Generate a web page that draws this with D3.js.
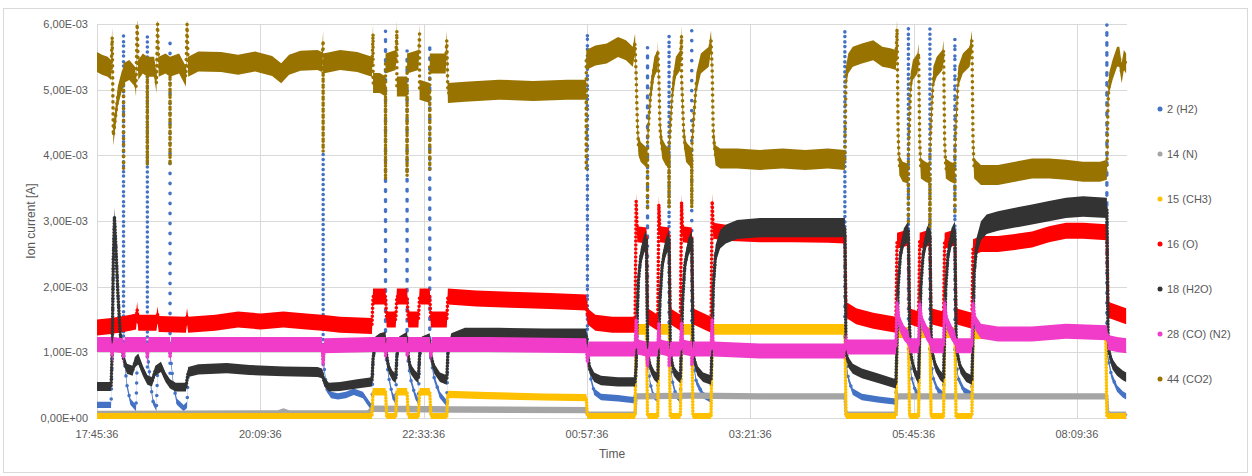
<!DOCTYPE html>
<html><head><meta charset="utf-8">
<script src="https://cdn.jsdelivr.net/npm/d3@7"></script>
<style>
html,body{margin:0;padding:0;background:#fff;}
svg{display:block;font-family:"Liberation Sans",Arial,sans-serif;}
</style></head><body>
<svg id="chart" width="1252" height="476"></svg>
<script>
// ---------------- DATA (values in units of 1E-03 A) ----------------
const seriesNames = ["2 (H2)","14 (N)","15 (CH3)","16 (O)","18 (H2O)","28 (CO) (N2)","44 (CO2)"];
const xTickLabels = ["17:45:36","20:09:36","22:33:36","00:57:36","03:21:36","05:45:36","08:09:36"];
const xStart = "17:45:36", xEnd = "08:53:45";
const yTickValues = [0,1,2,3,4,5,6];
const yTickLabels = ["0,00E+00","1,00E-03","2,00E-03","3,00E-03","4,00E-03","5,00E-03","6,00E-03"];
const yTitle = "Ion current [A]", xTitle = "Time";

const h2 = [
["17:45:36",0.2],["17:58",0.2],["17:59",1.0],["18:00",2.4],["18:01",3.05],["18:02",2.7],["18:04",1.9],["18:06",1.3],["18:09",0.9],["18:09",5.85],["18:09",1.0],["18:12",0.5],["18:15",0.25],["18:20",0.15],["18:21",0.85],["18:22",0.9],["18:26",0.72],["18:30",0.58],["18:30",5.84],["18:30",1.0],["18:33",0.5],["18:35",0.25],["18:38",0.15],["18:39",0.72],["18:42",0.78],["18:46",0.62],["18:50",0.52],["18:50",5.78],["18:50",1.0],["18:53",0.5],["18:56",0.25],["19:02",0.15],["19:05",0.2],["19:06",0.7],["19:15",0.74],["19:40",0.76],["20:00",0.73],["20:30",0.71],["21:00",0.7],["21:05",0.68],["21:05",4.05],["21:05",0.9],["21:08",0.45],["21:12",0.35],["21:18",0.33],["21:25",0.35],["21:32",0.4],["21:40",0.35],["21:46",0.2],["21:48",0.15],
["21:49",0.9],["21:51",1.15],["21:55",1.2],["22:00",1.22],["22:00",5.9],["22:00",1.0],["22:03",0.6],["22:06",0.35],["22:09",0.25],["22:10",0.95],["22:12",1.15],["22:19",1.22],["22:19",5.6],["22:19",1.0],["22:22",0.6],["22:26",0.35],["22:29",0.25],["22:30",0.95],["22:32",1.15],["22:39",1.2],["22:39",5.7],["22:39",1.0],["22:43",0.6],["22:48",0.35],["22:54",0.22],["22:55",1.0],["22:58",1.2],["23:10",1.28],["23:40",1.28],["00:20",1.27],["00:58",1.27],["00:58",5.87],["00:58",1.0],["01:01",0.6],["01:04",0.4],["01:10",0.32],["01:25",0.3],["01:35",0.28],["01:40",0.27],
["01:41",0.8],["01:42",1.6],["01:43",2.1],["01:45",2.45],["01:48",2.65],["01:51",2.72],["01:51",5.65],["01:51",1.0],["01:53",0.55],["01:56",0.35],["02:00",0.28],["02:01",1.2],["02:02",1.8],["02:04",2.35],["02:07",2.6],["02:10",2.72],["02:10",5.84],["02:10",1.0],["02:13",0.55],["02:16",0.35],["02:20",0.28],["02:21",1.2],["02:22",1.8],["02:24",2.35],["02:27",2.6],["02:30",2.72],["02:30",5.9],["02:30",1.0],["02:34",0.55],["02:40",0.35],["02:47",0.28],["02:48",1.2],["02:49",2.0],["02:51",2.5],["02:55",2.72],["03:00",2.8],["03:10",2.87],["03:30",2.9],["04:00",2.9],["04:45",2.9],["04:45",5.92],["04:45",1.0],["04:48",0.6],["04:52",0.4],["05:00",0.32],["05:15",0.28],["05:30",0.25],
["05:31",1.2],["05:32",2.0],["05:34",2.5],["05:37",2.75],["05:41",2.85],["05:41",5.96],["05:41",1.0],["05:44",0.6],["05:47",0.42],["05:50",0.35],["05:51",1.3],["05:52",2.0],["05:54",2.5],["05:57",2.75],["06:00",2.85],["06:00",5.96],["06:00",1.0],["06:03",0.6],["06:07",0.42],["06:12",0.35],["06:13",1.3],["06:14",2.0],["06:16",2.5],["06:19",2.75],["06:22",2.85],["06:22",5.79],["06:22",1.0],["06:25",0.6],["06:30",0.42],["06:37",0.35],["06:38",1.3],["06:39",2.2],["06:41",2.6],["06:45",2.85],["06:50",2.95],["07:00",3.0],["07:15",3.05],["07:30",3.1],["07:45",3.15],["08:00",3.2],["08:15",3.22],["08:36",3.2],["08:36",6.0],["08:36",1.0],["08:40",0.65],["08:45",0.45],["08:50",0.36],["08:53",0.33]
];

const n14 = [
["17:45:36",0.06],["20:25",0.07],["20:30",0.1],["20:35",0.07],["21:44",0.07],["21:48",0.14],["23:00",0.13],["00:57",0.12],["00:58",0.05],["01:40",0.05],["01:41",0.33],["02:30",0.34],["03:30",0.33],["04:45",0.33],["04:46",0.05],["05:30",0.05],["05:31",0.33],["06:40",0.33],["07:30",0.33],["08:36",0.33],["08:37",0.05],["08:53",0.05]
];

const ch3 = [
["17:45:36",0.03],["21:48",0.03],["21:49",0.4],["22:00",0.4],["22:01",0.03],["22:09",0.03],["22:10",0.4],["22:19",0.4],["22:20",0.03],["22:29",0.03],["22:30",0.4],["22:39",0.4],["22:40",0.03],["22:54",0.03],["22:55",0.36],["23:30",0.34],["00:20",0.32],["00:57",0.31],["00:58",0.03],["01:40",0.03],["01:41",1.35],["01:50",1.35],["01:51",0.03],["02:00",0.03],["02:01",1.35],["02:10",1.35],["02:11",0.03],["02:20",0.03],["02:21",1.35],["02:30",1.35],["02:31",0.03],["02:47",0.03],["02:48",1.35],["04:45",1.35],["04:46",0.03],["05:30",0.03],["05:31",1.3],["05:41",1.3],["05:42",0.03],["05:50",0.03],["05:51",1.3],["06:00",1.3],["06:01",0.03],["06:12",0.03],["06:13",1.3],["06:22",1.3],["06:23",0.03],["06:37",0.03],["06:38",1.28],["07:30",1.3],["08:00",1.33],["08:35",1.32],["08:36",0.03],["08:53",0.03]
];

const o16 = [
["17:45:36",1.38],["17:58",1.4],["18:05",1.42],["18:15",1.45],["18:20",1.47],["18:21",1.65],["18:22",1.45],["18:38",1.45],["18:39",1.58],["18:40",1.43],["19:04",1.42],["19:05",1.55],["19:06",1.42],["19:30",1.45],["19:50",1.5],["20:10",1.47],["20:30",1.5],["20:50",1.47],["21:04",1.45],["21:20",1.42],["21:48",1.4],
["21:49",1.85],["22:00",1.85],["22:01",1.5],["22:09",1.5],["22:10",1.85],["22:19",1.85],["22:20",1.5],["22:29",1.5],["22:30",1.85],["22:39",1.85],["22:40",1.5],["22:54",1.5],["22:55",1.85],["23:20",1.82],["23:50",1.8],["00:25",1.78],["00:57",1.76],
["00:58",1.55],["01:05",1.45],["01:20",1.42],["01:40",1.42],
["01:41",3.3],["01:42",2.8],["01:50",2.78],["01:51",1.55],["02:00",1.45],["02:01",3.25],["02:02",2.8],["02:10",2.78],["02:11",1.55],["02:20",1.45],["02:21",3.28],["02:22",2.8],["02:30",2.78],["02:31",1.55],["02:47",1.42],["02:48",3.3],["02:49",2.85],["03:00",2.82],["03:30",2.8],["04:00",2.8],["04:30",2.79],["04:45",2.78],
["04:46",1.65],["04:55",1.55],["05:10",1.48],["05:30",1.42],
["05:31",2.7],["05:41",2.75],["05:42",1.55],["05:50",1.5],["05:51",2.7],["06:00",2.75],["06:01",1.55],["06:12",1.5],["06:13",2.7],["06:22",2.75],["06:23",1.55],["06:37",1.48],["06:38",2.6],["06:45",2.65],["07:00",2.65],["07:15",2.68],["07:30",2.72],["07:45",2.8],["08:00",2.85],["08:15",2.85],["08:36",2.83],
["08:37",1.65],["08:45",1.6],["08:53",1.55]
];

const h2o = [
["17:45:36",0.48],["17:58",0.48],["17:59",1.0],["18:00",2.4],["18:01",3.05],["18:02",2.7],["18:04",1.9],["18:06",1.3],["18:09",0.9],["18:12",0.75],["18:17",0.72],["18:19",0.85],["18:22",0.9],["18:26",0.72],["18:30",0.58],["18:34",0.55],["18:37",0.72],["18:42",0.78],["18:46",0.62],["18:50",0.52],["18:55",0.47],["19:04",0.47],["19:06",0.7],["19:15",0.74],["19:40",0.76],["20:00",0.73],["20:30",0.71],["21:00",0.7],["21:04",0.68],["21:06",0.55],["21:10",0.47],["21:20",0.48],["21:35",0.52],["21:48",0.55],
["21:49",0.9],["21:51",1.15],["21:55",1.2],["22:00",1.22],["22:01",0.95],["22:03",0.75],["22:06",0.65],["22:09",0.6],["22:10",0.95],["22:12",1.15],["22:19",1.22],["22:20",0.95],["22:22",0.75],["22:26",0.65],["22:29",0.6],["22:30",0.95],["22:32",1.15],["22:39",1.2],["22:40",0.95],["22:43",0.75],["22:48",0.62],["22:54",0.58],["22:55",1.0],["22:58",1.2],["23:10",1.28],["23:40",1.28],["00:20",1.27],["00:57",1.27],
["00:58",1.0],["01:00",0.75],["01:04",0.62],["01:10",0.57],["01:25",0.55],["01:40",0.55],
["01:41",0.8],["01:42",1.6],["01:43",2.1],["01:45",2.45],["01:48",2.65],["01:50",2.72],["01:51",1.2],["01:52",0.9],["01:54",0.75],["01:57",0.65],["02:00",0.6],["02:01",1.2],["02:02",1.8],["02:04",2.35],["02:07",2.6],["02:10",2.72],["02:11",1.2],["02:12",0.9],["02:14",0.72],["02:17",0.65],["02:20",0.6],["02:21",1.2],["02:22",1.8],["02:24",2.35],["02:27",2.6],["02:30",2.72],["02:31",1.2],["02:32",0.9],["02:35",0.72],["02:40",0.62],["02:47",0.58],["02:48",1.2],["02:49",2.0],["02:51",2.5],["02:55",2.72],["03:00",2.8],["03:10",2.87],["03:30",2.9],["04:00",2.9],["04:30",2.9],["04:45",2.9],
["04:46",1.0],["04:48",0.85],["04:52",0.75],["05:00",0.68],["05:15",0.6],["05:30",0.52],
["05:31",1.2],["05:32",2.0],["05:34",2.5],["05:37",2.75],["05:41",2.85],["05:42",1.4],["05:43",1.0],["05:45",0.8],["05:48",0.65],["05:50",0.6],["05:51",1.3],["05:52",2.0],["05:54",2.5],["05:57",2.75],["06:00",2.85],["06:01",1.3],["06:02",1.0],["06:05",0.78],["06:09",0.65],["06:12",0.6],["06:13",1.3],["06:14",2.0],["06:16",2.5],["06:19",2.75],["06:22",2.85],["06:23",1.3],["06:24",1.0],["06:27",0.75],["06:32",0.62],["06:37",0.58],["06:38",1.3],["06:39",2.2],["06:41",2.6],["06:45",2.85],["06:50",2.95],["07:00",3.0],["07:15",3.05],["07:30",3.1],["07:45",3.15],["08:00",3.2],["08:15",3.22],["08:36",3.2],["08:37",1.3],["08:38",1.0],["08:41",0.82],["08:45",0.72],["08:50",0.65],["08:53",0.62]
];

const co28 = [
["17:45:36",1.12],["17:58",1.12],["17:59",0.95],["18:00",1.12],["18:09",1.1],["18:09",0.92],["18:10",1.12],["18:29",1.12],["18:30",0.92],["18:31",1.12],["18:50",1.12],["18:50",0.92],["18:51",1.12],["19:30",1.12],["20:30",1.12],["21:04",1.12],["21:05",0.82],["21:06",1.1],["21:48",1.12],["22:00",1.12],["22:00",0.95],["22:01",1.12],["22:19",1.12],["22:19",0.95],["22:20",1.12],["22:39",1.12],["22:40",0.95],["22:41",1.12],["23:30",1.12],["00:57",1.1],["00:58",0.85],["00:59",1.05],["01:20",1.05],["01:40",1.05],["01:41",1.5],["01:42",1.08],["01:50",1.05],["01:51",0.8],["01:52",1.05],["02:00",1.05],["02:01",1.45],["02:02",1.08],["02:10",1.05],["02:10",0.8],["02:11",1.05],["02:20",1.05],["02:21",1.45],["02:22",1.08],["02:30",1.05],["02:30",0.8],["02:31",1.05],["02:47",1.05],["02:48",1.5],["02:49",1.05],["03:30",1.02],["04:45",1.02],["04:46",1.2],["04:47",1.08],["05:30",1.08],
["05:31",1.75],["05:33",1.45],["05:37",1.3],["05:41",1.22],["05:42",1.1],["05:50",1.1],["05:51",1.75],["05:53",1.45],["05:57",1.3],["06:00",1.22],["06:01",1.1],["06:12",1.1],["06:13",1.75],["06:15",1.45],["06:19",1.3],["06:22",1.22],["06:23",1.1],["06:37",1.1],["06:38",1.75],["06:40",1.45],["06:45",1.32],["07:00",1.28],["07:30",1.28],["08:00",1.32],["08:36",1.3],["08:37",1.15],["08:45",1.12],["08:53",1.1]
];

const co2 = [
["17:45:36",5.42],["17:50",5.38],["17:55",5.35],["17:58",5.3],["17:59",5.8],["18:00",4.3],["18:02",4.6],["18:04",4.9],["18:07",5.1],["18:09",5.2],["18:09",3.8],["18:09",5.25],["18:14",5.3],["18:19",5.2],["18:20",5.05],["18:21",6.0],["18:22",5.3],["18:26",5.4],["18:30",5.35],["18:30",3.85],["18:30",5.35],["18:36",5.35],["18:38",5.1],["18:39",6.0],["18:40",5.35],["18:46",5.4],["18:50",5.35],["18:50",3.85],["18:50",5.35],["18:58",5.4],["19:04",5.2],["19:05",6.0],["19:06",5.35],["19:15",5.43],["19:35",5.42],["19:50",5.38],["20:05",5.43],["20:20",5.36],["20:28",5.25],["20:35",5.38],["20:45",5.44],["21:00",5.45],["21:04",5.42],["21:05",5.75],["21:05",4.05],["21:05",5.4],["21:20",5.45],["21:35",5.42],["21:48",5.35],
["21:49",5.85],["21:49",5.1],["21:55",5.1],["22:00",5.05],["22:00",3.63],["22:00",5.4],["22:09",5.45],["22:10",5.9],["22:10",5.05],["22:19",5.05],["22:19",3.68],["22:19",5.4],["22:29",5.45],["22:30",5.85],["22:30",5.0],["22:39",4.95],["22:39",3.78],["22:39",5.4],["22:53",5.4],["22:54",5.75],["22:55",4.95],["23:10",4.97],["23:40",5.0],["00:10",4.98],["00:40",5.0],["00:57",5.0],
["00:57",3.8],["00:57",5.45],["01:05",5.52],["01:15",5.55],["01:25",5.65],["01:32",5.6],["01:38",5.5],["01:40",5.7],["01:41",5.2],["01:42",4.5],["01:43",4.15],["01:45",4.05],["01:51",3.95],["01:51",3.2],["01:51",4.2],["01:52",4.5],["01:54",5.0],["01:57",5.35],["02:00",5.45],["02:00",5.6],["02:01",5.2],["02:02",4.4],["02:04",4.1],["02:07",4.0],["02:10",3.95],["02:10",3.2],["02:10",4.1],["02:11",4.4],["02:13",5.0],["02:16",5.35],["02:20",5.45],["02:21",5.82],["02:21",5.2],["02:23",4.3],["02:25",4.05],["02:30",3.95],["02:30",3.2],["02:30",4.1],["02:31",4.4],["02:34",5.1],["02:38",5.4],["02:45",5.5],["02:47",5.75],["02:48",5.3],["02:49",4.3],["02:51",4.0],["02:55",3.95],["03:10",3.95],["03:30",3.93],["03:50",3.95],["04:10",3.93],["04:30",3.95],["04:45",3.93],
["04:46",5.2],["04:48",5.4],["04:52",5.5],["05:00",5.55],["05:10",5.6],["05:18",5.5],["05:25",5.48],["05:30",5.45],["05:31",5.92],["05:32",4.3],["05:33",3.85],["05:36",3.75],["05:41",3.72],["05:41",2.95],["05:41",4.0],["05:42",4.5],["05:43",5.1],["05:45",5.3],["05:49",5.4],["05:50",5.55],["05:51",4.2],["05:52",3.8],["05:56",3.75],["06:00",3.72],["06:00",2.9],["06:00",4.0],["06:01",4.5],["06:03",5.2],["06:06",5.35],["06:11",5.45],["06:12",5.6],["06:13",4.2],["06:14",3.8],["06:18",3.75],["06:22",3.72],["06:22",3.1],["06:22",4.0],["06:23",4.5],["06:25",5.2],["06:29",5.4],["06:35",5.5],["06:37",5.75],["06:38",4.2],["06:39",3.8],["06:45",3.7],["07:00",3.7],["07:15",3.75],["07:30",3.8],["07:45",3.8],["08:00",3.78],["08:15",3.75],["08:30",3.75],["08:36",3.78],
["08:37",4.8],["08:38",5.1],["08:41",5.3],["08:45",5.5],["08:47",5.5],["08:49",5.25],["08:51",5.45],["08:53",5.4]
];

const seriesData = [h2, n14, ch3, o16, h2o, co28, co2];

// ---------------- STYLE ----------------
const colors = ["#4472C4","#A5A5A5","#FFC000","#FF0000","#333333","#F03CC8","#997300"];
const bandBase = [3.2, 3.2, 3.0, 8.0, 3.5, 7.5, 10.0];  // px half-thickness of the scatter cloud
const bandSlope = [0, 0, 1.8, 0, 2.1, 0, 0];           // px per 1E-03 A
const dotGap = [10, 3, 3, 4, 3, 3, 6];
const plot = {left: 97, right: 1127, top: 24, bottom: 418};
const textColor = "#595959", gridColor = "#D9D9D9";

// ---------------- HELPERS ----------------
const base = Date.UTC(2000,0,1);
function parseT(s){
  const p = s.split(":").map(Number);
  let mins = p[0]*60 + p[1] + (p[2]||0)/60;
  if (p[0] < 12) mins += 1440;
  return new Date(base + mins*60000);
}

const svg = d3.select("#chart");
const x = d3.scaleUtc().domain([parseT(xStart), parseT(xEnd)]).range([plot.left, plot.right]);
const y = d3.scaleLinear().domain([0, 6]).range([plot.bottom, plot.top]);

svg.append("rect").attr("x",3.5).attr("y",8.5).attr("width",1244).attr("height",464)
  .attr("fill","#fff").attr("stroke",gridColor);

svg.append("g").selectAll("line").data(yTickValues).join("line")
  .attr("x1",plot.left).attr("x2",plot.right)
  .attr("y1",d=>Math.round(y(d))+0.5).attr("y2",d=>Math.round(y(d))+0.5)
  .attr("stroke",gridColor).attr("stroke-width",1);
svg.append("g").selectAll("line").data(xTickLabels).join("line")
  .attr("x1",d=>Math.round(x(parseT(d)))+0.5).attr("x2",d=>Math.round(x(parseT(d)))+0.5)
  .attr("y1",plot.top).attr("y2",plot.bottom)
  .attr("stroke",gridColor).attr("stroke-width",1);

svg.append("g").selectAll("text").data(yTickValues).join("text")
  .attr("x",plot.left-9).attr("y",d=>y(d)).attr("dy","0.35em")
  .attr("text-anchor","end").attr("font-size","11px").attr("fill",textColor)
  .text((d,i)=>yTickLabels[i]);
svg.append("g").selectAll("text").data(xTickLabels).join("text")
  .attr("x",d=>x(parseT(d))).attr("y",plot.bottom+16)
  .attr("dy","0.35em").attr("text-anchor","middle").attr("font-size","11px").attr("fill",textColor)
  .text(d=>d);
svg.append("text").attr("x",(plot.left+plot.right)/2).attr("y",454).attr("dy","0.35em")
  .attr("text-anchor","middle").attr("font-size","12px").attr("fill",textColor).text(xTitle);
svg.append("text").attr("transform",`translate(31,${(plot.top+plot.bottom)/2}) rotate(-90)`)
  .attr("dy","0.35em").attr("text-anchor","middle").attr("font-size","12px").attr("fill",textColor).text(yTitle);

svg.append("clipPath").attr("id","clip").append("rect")
  .attr("x",plot.left).attr("y",plot.top-3).attr("width",plot.right-plot.left+2).attr("height",plot.bottom-plot.top+6);

const gSeries = svg.append("g").attr("clip-path","url(#clip)");
seriesData.forEach((data, i) => {
  const pts = data.map(d => ({t: parseT(d[0]), v: d[1]}));
  const sp = v => bandBase[i] + bandSlope[i]*v;
  const area = d3.area().x(d=>x(d.t)).y0(d=>y(d.v)+sp(d.v)).y1(d=>y(d.v)-sp(d.v));
  const line = d3.line().x(d=>x(d.t)).y(d=>y(d.v));
  const g = gSeries.append("g");
  g.append("path").attr("d", area(pts)).attr("fill", colors[i]);
  g.append("path").attr("d", line(pts)).attr("fill","none").attr("stroke",colors[i])
    .attr("stroke-width",3.6).attr("stroke-linecap","round").attr("stroke-dasharray",`0 ${dotGap[i]}`);
});

const legY0 = 109, legStep = 45;
const lg = svg.append("g").selectAll("g").data(seriesNames).join("g")
  .attr("transform",(d,i)=>`translate(1160,${legY0+i*legStep})`);
lg.append("circle").attr("r",2.5).attr("fill",(d,i)=>colors[i]);
lg.append("text").attr("x",7).attr("dy","0.35em").attr("font-size","11px").attr("fill",textColor).text(d=>d);
</script>
</body></html>
